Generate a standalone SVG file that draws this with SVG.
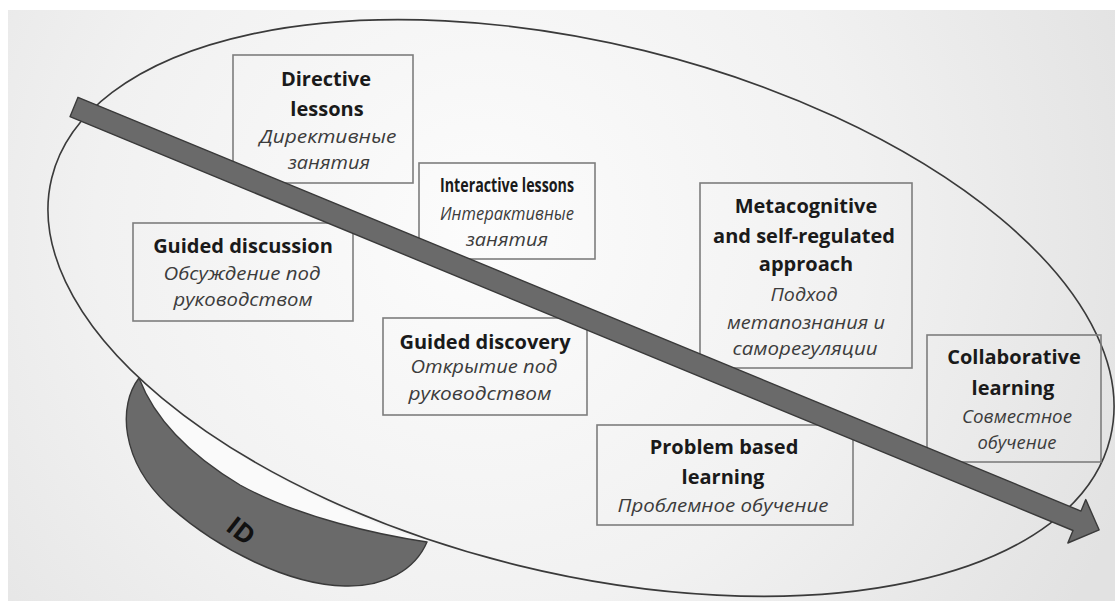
<svg xmlns="http://www.w3.org/2000/svg" width="1115" height="601" viewBox="0 0 1115 601">
  <defs>
    <radialGradient id="bg" cx="480" cy="230" r="700" gradientUnits="userSpaceOnUse">
      <stop offset="0" stop-color="#fcfcfc"/>
      <stop offset="0.55" stop-color="#f1f1f1"/>
      <stop offset="1" stop-color="#e2e2e2"/>
    </radialGradient>
  </defs>
  <style>
    .box { fill: none; stroke: #7d7d7d; stroke-width: 1.6; }
    .en { font-family: "Open Sans", "Liberation Sans", sans-serif; font-weight: bold; font-size: 20px; fill: #1a1a1a; text-anchor: middle; }
    .ru { font-family: "Open Sans", "Liberation Sans", sans-serif; font-style: italic; font-size: 18px; fill: #3c3c3c; text-anchor: middle; }
    .ell { fill: none; stroke: #3a3a3a; stroke-width: 1.6; }
    .dark { fill: #6a6a6a; stroke: #3a3a3a; stroke-width: 1.4; stroke-linejoin: round; }
  </style>

  <rect x="0" y="0" width="1115" height="601" fill="#ffffff"/>
  <rect x="8" y="10" width="1107" height="591" fill="url(#bg)"/>

  <!-- ID crescent -->
  <g id="id-shape">
    <path d="M139,378 A545,265 13.8 0 0 427,542 C380,535 300,518 240,485 C190,455 155,420 139,378 Z" fill="#fafafa" stroke="none"/>
    <path class="dark" d="M139,378 C118,405 120,460 168,505 C218,550 290,585 345,586 C385,587 415,570 427,542 C380,535 300,518 240,485 C190,455 155,420 139,378 Z"/>
    <text x="241" y="540" transform="rotate(38 241 531)" font-family="'Open Sans', 'Liberation Sans', sans-serif" font-weight="bold" font-size="26" fill="#111" text-anchor="middle">ID</text>
  </g>

  <!-- big ellipse -->
  <ellipse class="ell" cx="581" cy="308" rx="545" ry="265" transform="rotate(13.8 581 308)"/>

  <g id="directive">
    <rect class="box" x="233" y="55" width="180" height="128"/>
    <text class="en" x="326" y="86">Directive</text>
    <text class="en" x="327" y="116">lessons</text>
    <text class="ru" x="328" y="143" textLength="137" lengthAdjust="spacingAndGlyphs">Директивные</text>
    <text class="ru" x="329" y="169" textLength="82" lengthAdjust="spacingAndGlyphs">занятия</text>
  </g>

  <g id="guided-discussion">
    <rect class="box" x="133" y="223" width="220" height="98"/>
    <text class="en" x="243" y="253">Guided discussion</text>
    <text class="ru" x="242" y="280" textLength="157" lengthAdjust="spacingAndGlyphs">Обсуждение под</text>
    <text class="ru" x="243" y="306" textLength="139" lengthAdjust="spacingAndGlyphs">руководством</text>
  </g>

  <g id="interactive">
    <rect class="box" x="419" y="163" width="176" height="96"/>
    <text class="en" x="507" y="192" textLength="134" lengthAdjust="spacingAndGlyphs">Interactive lessons</text>
    <text class="ru" x="507" y="220" textLength="134" lengthAdjust="spacingAndGlyphs">Интерактивные</text>
    <text class="ru" x="507" y="246" textLength="82" lengthAdjust="spacingAndGlyphs">занятия</text>
  </g>

  <g id="guided-discovery">
    <rect class="box" x="383" y="318" width="204" height="97"/>
    <text class="en" x="485" y="349">Guided discovery</text>
    <text class="ru" x="484" y="373" textLength="147" lengthAdjust="spacingAndGlyphs">Открытие под</text>
    <text class="ru" x="480" y="400" textLength="143" lengthAdjust="spacingAndGlyphs">руководством</text>
  </g>

  <g id="metacognitive">
    <rect class="box" x="700" y="183" width="212" height="185"/>
    <text class="en" x="806" y="213">Metacognitive</text>
    <text class="en" x="804" y="243">and self-regulated</text>
    <text class="en" x="806" y="271">approach</text>
    <text class="ru" x="804" y="301" textLength="67" lengthAdjust="spacingAndGlyphs">Подход</text>
    <text class="ru" x="806" y="329" textLength="158" lengthAdjust="spacingAndGlyphs">метапознания и</text>
    <text class="ru" x="805" y="355" textLength="145" lengthAdjust="spacingAndGlyphs">саморегуляции</text>
  </g>

  <g id="collaborative">
    <rect class="box" x="927" y="335" width="174" height="127"/>
    <text class="en" x="1014" y="364">Collaborative</text>
    <text class="en" x="1013" y="395">learning</text>
    <text class="ru" x="1017" y="423" textLength="110" lengthAdjust="spacingAndGlyphs">Совместное</text>
    <text class="ru" x="1017" y="449" textLength="79" lengthAdjust="spacingAndGlyphs">обучение</text>
  </g>

  <g id="problem-based">
    <rect class="box" x="597" y="425" width="256" height="100"/>
    <text class="en" x="724" y="454">Problem based</text>
    <text class="en" x="723" y="484">learning</text>
    <text class="ru" x="723" y="512" textLength="211" lengthAdjust="spacingAndGlyphs">Проблемное обучение</text>
  </g>

  <g id="connectors">
    <polygon class="dark" transform="translate(74 107) rotate(22.42)" points="0,-10.5 1085,-10.5 1085,-23 1109,0 1085,24 1085,10.5 0,10.5"/>
  </g>
</svg>
